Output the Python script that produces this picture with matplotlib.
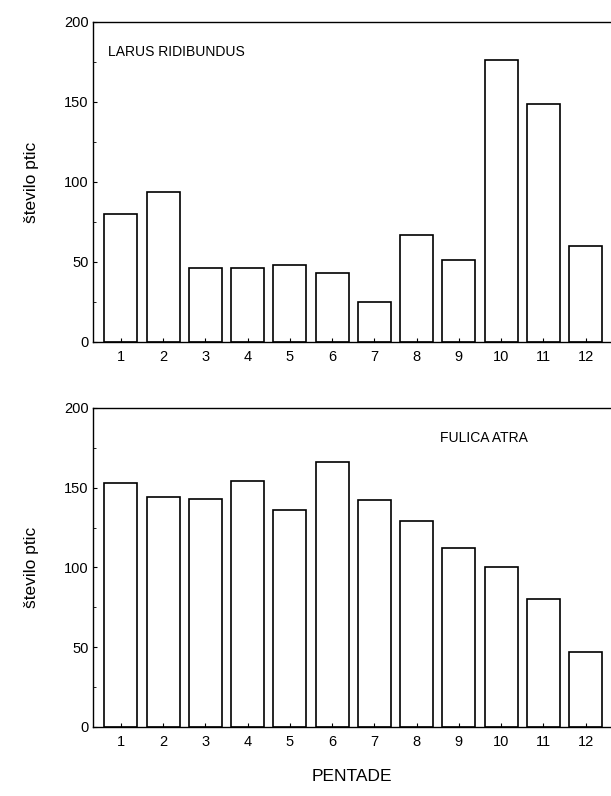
#!/usr/bin/env python3
"""Birds counted per pentade: Larus ridibundus and Fulica atra."""
import matplotlib

matplotlib.use("Agg")
import matplotlib.pyplot as plt
from matplotlib.ticker import MultipleLocator

plt.rcParams["font.family"] = ["Liberation Sans", "DejaVu Sans"]

PENTADE = [1, 2, 3, 4, 5, 6, 7, 8, 9, 10, 11, 12]
PENTADE_LABELS = ["1", "2", "3", "4", "5", "6", "7", "8", "9", "10", "11", "12"]
LARUS = [80, 94, 46, 46, 48, 43, 25, 67, 51, 176, 149, 60]
FULICA = [153, 144, 143, 154, 136, 166, 142, 129, 112, 100, 80, 47]
Y_TICKS = [0, 50, 100, 150, 200]


def panel(fig, rect, values, name, name_xy, name_ha):
    ax = fig.add_axes(rect)
    ax.bar(PENTADE, values, width=0.78, color="white", edgecolor="black",
           linewidth=1.2)
    ax.set_xlim(0.34, 12.6)
    ax.set_ylim(0, 200)
    ax.set_xticks(PENTADE)
    ax.set_xticklabels(PENTADE_LABELS)
    ax.set_yticks(Y_TICKS)
    ax.yaxis.set_minor_locator(MultipleLocator(25))
    ax.tick_params(axis="both", which="major", direction="in", length=3,
                   width=0.8, labelsize=10.5, pad=6)
    ax.tick_params(axis="y", which="minor", direction="in", length=2,
                   width=0.6)
    ax.tick_params(axis="y", pad=3)
    ax.spines["right"].set_visible(False)
    for s in ("left", "top", "bottom"):
        ax.spines[s].set_linewidth(1.0)
    ax.set_ylabel("število ptic", fontsize=12.5, labelpad=18)
    ax.text(name_xy[0], name_xy[1], name, transform=ax.transAxes,
            ha=name_ha, va="center", fontsize=10)
    return ax


fig = plt.figure(figsize=(6.11, 7.96), dpi=100)
panel(fig, [0.152, 0.5704, 0.848, 0.402], LARUS, "LARUS RIDIBUNDUS",
      (0.03, 0.905), "left")
ax2 = panel(fig, [0.152, 0.0867, 0.848, 0.4008], FULICA, "FULICA ATRA",
            (0.84, 0.905), "right")
ax2.set_xlabel("PENTADE", fontsize=12.5, labelpad=14)

fig.savefig("out.png", dpi=100)
